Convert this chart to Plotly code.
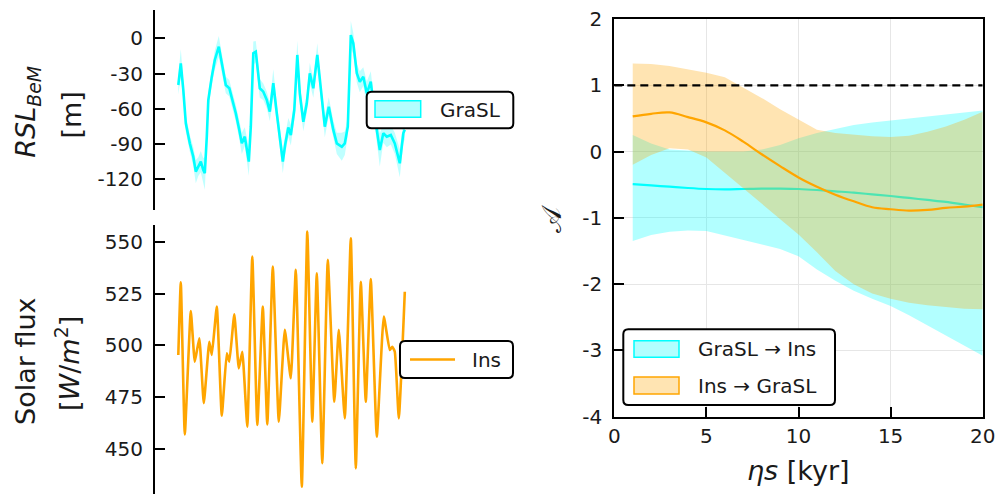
import plotly.graph_objects as go

W, H = 997, 494

# ---------------- data ----------------
# top-left: relative sea level (GraSL) with uncertainty half-width
rsl_t = [0, 5, 10, 15, 23, 30, 35, 40, 45, 50, 53, 57, 60, 67, 73, 81, 89, 95, 102, 109,
         115, 122, 127, 133, 141, 145, 150, 155, 163, 170, 177, 183, 190, 197, 209, 214, 220, 225, 232, 238,
         243, 250, 257, 263, 270, 278, 285, 293, 301, 310, 317, 327, 333, 339, 345, 350, 357, 363, 370, 377,
         385, 393, 403, 410, 417, 425, 433, 443, 450, 453]
rsl_val = [-39.8, -21.3, -44, -72.4, -89.5, -100.9, -113.6, -109.4, -105.1, -112.2,
           -115, -83.8, -52.6, -32.7, -18.5, -7.1, -27, -39.8, -42.6, -54,
           -63.9, -78.1, -89.5, -83.8, -105.1, -75.3, -12.8, -11.4, -42.6, -45.5,
           -52.6, -62.5, -38.3, -63.9, -105, -90, -76, -82.4, -61.1, -14.2,
           -46.9, -71.1, -55.4, -29.8, -42.6, -14.2, -45.5, -75.3, -58.3, -78.1,
           -89.5, -92.4, -89.5, -75.3, 2.8, -4.3, -29.8, -37, -32.7, -46.9,
           -37, -66.8, -95.2, -80.9, -83.8, -82.4, -89.5, -106.5, -80.9, -78]
rsl_err = [8, 12, 8, 7, 7, 8, 10, 8, 9, 10, 14, 8, 7, 7, 8, 9, 8, 7, 7, 8,
           7, 8, 9, 8, 12, 8, 10, 9, 8, 7, 7, 8, 12, 8, 10, 8, 8, 9, 9, 12,
           9, 8, 8, 9, 8, 10, 8, 9, 8, 8, 9, 12, 10, 8, 12, 9, 8, 9, 8, 10,
           9, 8, 14, 8, 9, 8, 9, 12, 9, 8]

# bottom-left: insolation
ins_t = [0, 5, 13, 25, 33, 42, 51, 62, 67, 77, 87, 97, 102, 112, 121, 128, 138, 148, 158, 169,
         178, 189, 201, 213, 225, 235, 247, 258, 268, 277, 288, 299, 312, 321, 333, 345, 355, 365, 375, 385,
         397, 411, 423, 428, 433, 441, 453]
ins_val = [495.4, 530.4, 457.2, 516.6, 492.2, 503.5, 472.2, 501.8, 495.4, 518.7,
           466.2, 496.2, 492.2, 515.0, 489.0, 497.0, 460.9, 542.8, 461.7, 518.7,
           462.0, 538.0, 463.3, 507.5, 484.2, 536.4, 432.0, 554.8, 463.3, 534.8,
           443.3, 541.2, 472.9, 507.5, 464.9, 551.6, 440.8, 530.7, 472.9, 532.0,
           456.1, 513.9, 497.8, 499.4, 497.0, 464.9, 525.9]

# right: coupling strength vs eta*s
eta = list(range(1, 21))
g2i_mean = [-0.49, -0.51, -0.53, -0.55, -0.565, -0.57, -0.565, -0.56, -0.56, -0.565,
            -0.58, -0.60, -0.62, -0.645, -0.67, -0.70, -0.73, -0.76, -0.80, -0.84]
g2i_up = [0.25, 0.12, 0.03, 0.01, 0.00, 0.00, 0.00, 0.03, 0.10, 0.20,
          0.28, 0.34, 0.40, 0.44, 0.47, 0.49, 0.52, 0.55, 0.59, 0.62]
g2i_lo = [-1.35, -1.26, -1.21, -1.19, -1.20, -1.27, -1.33, -1.40, -1.47, -1.58,
          -1.78, -1.95, -2.10, -2.22, -2.33, -2.47, -2.62, -2.78, -2.93, -3.08]
i2g_mean = [0.53, 0.57, 0.59, 0.52, 0.44, 0.32, 0.15, -0.04, -0.22, -0.39,
            -0.53, -0.65, -0.75, -0.84, -0.87, -0.89, -0.88, -0.85, -0.83, -0.80]
i2g_up = [1.33, 1.32, 1.29, 1.24, 1.19, 1.12, 0.97, 0.81, 0.64, 0.49,
          0.33, 0.28, 0.25, 0.23, 0.22, 0.24, 0.30, 0.38, 0.48, 0.60]
i2g_lo = [-0.20, -0.05, 0.05, 0.03, -0.09, -0.32, -0.55, -0.78, -1.02, -1.25,
          -1.52, -1.80, -2.00, -2.14, -2.22, -2.28, -2.32, -2.35, -2.37, -2.38]
ref_level = 1

rsl_ticks = [0, -30, -60, -90, -120]
ins_ticks = [450, 475, 500, 525, 550]
a_ticks = [2, 1, 0, -1, -2, -3, -4]
eta_ticks = [0, 5, 10, 15, 20]

CYAN = "#00FFFF"
ORANGE = "#FFA500"
CYAN_F = "rgba(0,255,255,0.3)"
ORANGE_F = "rgba(255,165,0,0.3)"
FONT = "DejaVu Sans"
TXT = "#1a1a1a"


def px(x):
    return x / W


def py(y):
    return 1 - y / H


fig = go.Figure()

# ---- top-left ----
rsl_hi = [v + e for v, e in zip(rsl_val, rsl_err)]
rsl_lo = [v - e for v, e in zip(rsl_val, rsl_err)]
fig.add_trace(go.Scatter(x=rsl_t, y=rsl_hi, mode="lines", line=dict(width=0),
                         xaxis="x", yaxis="y", showlegend=False, hoverinfo="skip"))
fig.add_trace(go.Scatter(x=rsl_t, y=rsl_lo, mode="lines", line=dict(width=0), fill="tonexty",
                         fillcolor="rgba(0,255,255,0.25)", xaxis="x", yaxis="y", showlegend=False,
                         hoverinfo="skip"))
fig.add_trace(go.Scatter(x=rsl_t, y=rsl_val, mode="lines", line=dict(color=CYAN, width=2.6),
                         xaxis="x", yaxis="y", name="GraSL", showlegend=False))

# ---- bottom-left ----
fig.add_trace(go.Scatter(x=ins_t, y=ins_val, mode="lines",
                         line=dict(color=ORANGE, width=2.6, shape="spline", smoothing=0.4),
                         xaxis="x2", yaxis="y2", name="Ins", showlegend=False))

# ---- right ----
fig.add_trace(go.Scatter(x=eta, y=g2i_up, mode="lines", line=dict(width=0),
                         xaxis="x3", yaxis="y3", showlegend=False, hoverinfo="skip"))
fig.add_trace(go.Scatter(x=eta, y=g2i_lo, mode="lines", line=dict(width=0), fill="tonexty",
                         fillcolor=CYAN_F, xaxis="x3", yaxis="y3", showlegend=False, hoverinfo="skip"))
fig.add_trace(go.Scatter(x=eta, y=g2i_mean, mode="lines", line=dict(color=CYAN, width=2.2, shape="spline"),
                         xaxis="x3", yaxis="y3", name="GraSL→Ins", showlegend=False))
fig.add_trace(go.Scatter(x=eta, y=i2g_up, mode="lines", line=dict(width=0),
                         xaxis="x3", yaxis="y3", showlegend=False, hoverinfo="skip"))
fig.add_trace(go.Scatter(x=eta, y=i2g_lo, mode="lines", line=dict(width=0), fill="tonexty",
                         fillcolor=ORANGE_F, xaxis="x3", yaxis="y3", showlegend=False, hoverinfo="skip"))
fig.add_trace(go.Scatter(x=eta, y=i2g_mean, mode="lines", line=dict(color=ORANGE, width=2.2, shape="spline"),
                         xaxis="x3", yaxis="y3", name="Ins→GraSL", showlegend=False))
fig.add_trace(go.Scatter(x=[eta_ticks[0], eta_ticks[-1]], y=[ref_level, ref_level], mode="lines",
                         line=dict(color="black", width=2.2, dash="8px,5px"),
                         xaxis="x3", yaxis="y3", showlegend=False, hoverinfo="skip"))

tickfont = dict(family=FONT, size=20, color=TXT)
left_x_range = [-46.6, 683.4]

fig.update_layout(
    width=W, height=H, margin=dict(l=0, r=0, t=0, b=0),
    paper_bgcolor="white", plot_bgcolor="white", showlegend=False,
    font=dict(family=FONT, color=TXT),
    xaxis=dict(domain=[px(155), px(520)], range=left_x_range, visible=False, anchor="y"),
    yaxis=dict(domain=[py(210), py(10)], range=[-146.3, 24.1], anchor="x",
               showline=True, linecolor="black", linewidth=2, ticks="inside", ticklen=10,
               tickwidth=1.5, tickcolor="black", tickvals=rsl_ticks, ticktext=[str(v) for v in rsl_ticks],
               showgrid=False, zeroline=False, tickfont=tickfont, ticklabelstandoff=6, automargin=False),
    xaxis2=dict(domain=[px(155), px(520)], range=left_x_range, visible=False, anchor="y2"),
    yaxis2=dict(domain=[0, py(225)], range=[428.5, 558.0], anchor="x2",
                showline=True, linecolor="black", linewidth=2, ticks="inside", ticklen=10,
                tickwidth=1.5, tickcolor="black", tickvals=ins_ticks, ticktext=[str(v) for v in ins_ticks],
                showgrid=False, zeroline=False, tickfont=tickfont, ticklabelstandoff=6, automargin=False),
    xaxis3=dict(domain=[px(614.3), px(982.7)], range=[0, 20], anchor="y3",
                showline=True, mirror=True, linecolor="black", linewidth=2, ticks="inside", ticklen=10,
                tickwidth=1.5, tickcolor="black", tickvals=eta_ticks, ticktext=[str(v) for v in eta_ticks],
                showgrid=True, gridcolor="#e6e6e6", gridwidth=1, zeroline=False, tickfont=tickfont,
                automargin=False),
    yaxis3=dict(domain=[py(416.7), py(19)], range=[-4, 2], anchor="x3",
                showline=True, mirror=True, linecolor="black", linewidth=2, ticks="inside", ticklen=10,
                tickwidth=1.5, tickcolor="black", tickvals=a_ticks, ticktext=[str(v) for v in a_ticks],
                showgrid=True, gridcolor="#e6e6e6", gridwidth=1, zeroline=False, tickfont=tickfont,
                ticklabelstandoff=6, automargin=False),
)


def rrect(x0, y0, x1, y1, r=5):
    pts = lambda x, y: f"{px(x):.5f},{py(y):.5f}"
    return (f"M {pts(x0 + r, y0)} L {pts(x1 - r, y0)} Q {pts(x1, y0)} {pts(x1, y0 + r)} "
            f"L {pts(x1, y1 - r)} Q {pts(x1, y1)} {pts(x1 - r, y1)} L {pts(x0 + r, y1)} "
            f"Q {pts(x0, y1)} {pts(x0, y1 - r)} L {pts(x0, y0 + r)} Q {pts(x0, y0)} {pts(x0 + r, y0)} Z")


shapes = []
annotations = []


def box(x0, y0, x1, y1):
    shapes.append(dict(type="path", path=rrect(x0, y0, x1, y1), xref="paper", yref="paper",
                       line=dict(color="black", width=2), fillcolor="white", layer="above"))


def patch(x0, y0, x1, y1, fill, line):
    shapes.append(dict(type="rect", x0=px(x0), x1=px(x1), y0=py(y1), y1=py(y0), xref="paper", yref="paper",
                       line=dict(color=line, width=1.5), fillcolor=fill, layer="above"))


def label(x, y, text, size=20, anchor="left", angle=0):
    annotations.append(dict(x=px(x), y=py(y), xref="paper", yref="paper", text=text, showarrow=False,
                            xanchor=anchor, yanchor="middle", textangle=angle,
                            font=dict(family=FONT, size=size, color=TXT)))


# legends
box(366.7, 91.7, 513.3, 128.3)
patch(375, 100.7, 420.7, 117.3, CYAN_F, CYAN)
label(438, 110, "GraSL")

box(400, 341, 513, 378)
shapes.append(dict(type="line", x0=px(410), x1=px(455), y0=py(359.5), y1=py(359.5), xref="paper", yref="paper",
                   line=dict(color=ORANGE, width=2.6), layer="above"))
label(470, 359.5, "Ins")

box(623.3, 329.3, 835, 405)
patch(634, 340.7, 679, 357.3, CYAN_F, CYAN)
label(696, 349, "GraSL → Ins")
patch(634, 377, 679, 394, ORANGE_F, ORANGE)
label(696, 385.5, "Ins → GraSL")

# axis titles
label(28, 111.7, "<i>RSL</i><sub><i>BeM</i></sub>", size=27, anchor="center", angle=-90)
label(70.5, 115, "[m]", size=27, anchor="center", angle=-90)
label(25.5, 361.5, "Solar flux", size=27, anchor="center", angle=-90)
label(67, 364, "[<i>W</i>/<i>m</i><sup>2</sup>]", size=27, anchor="center", angle=-90)
label(551, 219, "𝒜", size=27, anchor="center", angle=-90)
label(798, 470, "<i>ηs</i> [kyr]", size=27, anchor="center")

fig.update_layout(shapes=shapes, annotations=annotations)

fig.write_html("out.html", config={"displayModeBar": False},
               post_script="document.body.style.margin='0';document.body.style.overflow='hidden';")
